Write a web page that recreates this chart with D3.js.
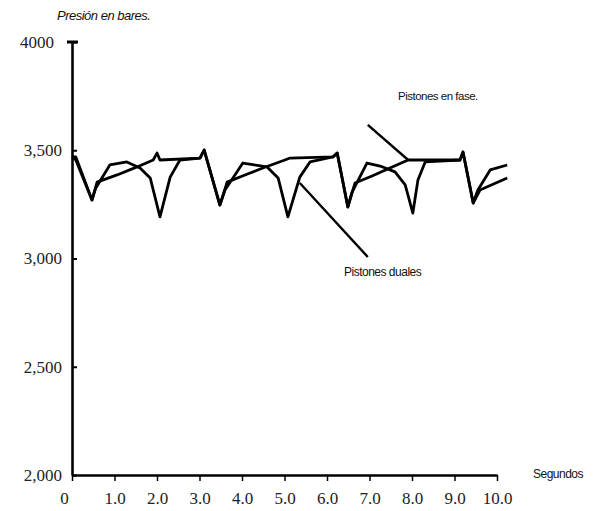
<!DOCTYPE html>
<html>
<head>
<meta charset="utf-8">
<script src="https://cdn.jsdelivr.net/npm/d3@7"></script>
<style>
html,body{margin:0;padding:0;background:#fff;}
svg{display:block;}
.serif text, text.serif{font-family:"Liberation Serif","DejaVu Serif",serif !important;}
</style>
</head>
<body>
<svg id="chart" width="597" height="511"></svg>
<script>
// ---- data ----
const xTicks = [0,1,2,3,4,5,6,7,8,9,10];
const xTickLabels = ["0","1.0","2.0","3.0","4.0","5.0","6.0","7.0","8.0","9.0","10.0"];
const yTicks = [2000,2500,3000,3500,4000];
const yTickLabels = ["2,000","2,500","3,000","3,500","4000"];

const faseT = [0,0.09,0.47,0.59,1.06,1.53,1.91,2.0,2.07,3.01,3.11,3.48,3.65,4.07,4.49,5.01,5.13,6.14,6.24,6.49,6.66,7.06,7.48,7.91,8.02,9.13,9.2,9.44,9.6,10.24];
const faseV = [3469,3455,3270,3353,3386,3423,3455,3487,3455,3464,3501,3247,3353,3386,3418,3455,3464,3469,3487,3238,3349,3381,3418,3455,3455,3455,3492,3256,3316,3372];

const dualT = [0,0.09,0.47,0.56,0.89,1.29,1.6,1.84,2.07,2.31,2.54,3.01,3.11,3.48,3.6,4.02,4.59,4.85,5.08,5.36,5.6,6.14,6.24,6.49,6.59,6.94,7.25,7.6,7.84,8.02,8.14,8.31,9.13,9.2,9.44,9.55,9.84,10.24];
const dualV = [3469,3469,3270,3326,3432,3446,3418,3372,3192,3376,3455,3464,3501,3247,3316,3441,3423,3372,3192,3376,3446,3469,3487,3238,3307,3441,3427,3400,3340,3210,3363,3446,3455,3492,3256,3316,3409,3432];

const yTitle = "Presión en bares.";
const xTitle = "Segundos";
const labelFase = "Pistones en fase.";
const labelDual = "Pistones duales";
// annotation pointer endpoints in data space [t, value]
const pointerFase = [[6.96,3617],[7.91,3455]];
const pointerDual = [[5.36,3349],[6.96,3007]];

// ---- drawing ----
const svg = d3.select("#chart");
svg.append("rect").attr("width",597).attr("height",511).attr("fill","#fff");

const x = d3.scaleLinear().domain([0,10]).range([72,497]);
const y = d3.scaleLinear().domain([2000,4000]).range([475,42]);
const sans = "'Liberation Sans Narrow','Liberation Sans',Arial,sans-serif";

// x axis
const xAxis = d3.axisBottom(x).tickValues(xTicks)
  .tickFormat((d,i)=>xTickLabels[i]).tickSize(6).tickSizeOuter(0);
const gx = svg.append("g").attr("class","serif").attr("transform","translate(0,475)").call(xAxis);
gx.attr("font-family",null).attr("font-size",17);
gx.select(".domain").attr("stroke","#000").attr("stroke-width",2.6);
gx.selectAll(".tick line").attr("stroke","#000").attr("stroke-width",1.5);
gx.selectAll(".tick text").attr("fill","#222").attr("dy","1.15em");
gx.selectAll(".tick text").filter((d)=>d===0).attr("dx",-8);

// y axis
const yAxis = d3.axisLeft(y).tickValues(yTicks)
  .tickFormat((d,i)=>yTickLabels[i]).tickSize(-5).tickSizeOuter(0).tickPadding(10);
const gy = svg.append("g").attr("class","serif").attr("transform","translate(72,0)").call(yAxis);
gy.attr("font-family",null).attr("font-size",17);
gy.select(".domain").attr("stroke","#000").attr("stroke-width",2.6);
gy.selectAll(".tick line").attr("stroke","#000").attr("stroke-width",2);
gy.selectAll(".tick text").attr("fill","#222");
gy.selectAll(".tick text").filter(d=>d===4000).attr("dx",-8);
// top cap on axis
gy.append("line").attr("x1",-5).attr("x2",6).attr("y1",y(4000)).attr("y2",y(4000))
  .attr("stroke","#000").attr("stroke-width",3);

// series
const line = d3.line().x(d=>x(d[0])).y(d=>y(d[1]));
const faseData = faseT.map((t,i)=>[t,faseV[i]]);
const dualData = dualT.map((t,i)=>[t,dualV[i]]);
svg.append("path").datum(faseData).attr("d",line)
  .attr("fill","none").attr("stroke","#000").attr("stroke-width",2.8).attr("stroke-linejoin","round");
svg.append("path").datum(dualData).attr("d",line)
  .attr("fill","none").attr("stroke","#000").attr("stroke-width",2.8).attr("stroke-linejoin","round");

// pointers
[pointerFase,pointerDual].forEach(p=>{
  svg.append("line").attr("x1",x(p[0][0])).attr("y1",y(p[0][1]))
    .attr("x2",x(p[1][0])).attr("y2",y(p[1][1]))
    .attr("stroke","#000").attr("stroke-width",2.4);
});

// texts
function label(txt,xp,yp,size,italic){
  svg.append("text").attr("x",xp).attr("y",yp).text(txt)
    .style("font-family",sans).style("font-size",size+"px")
    .style("font-style",italic?"italic":"normal")
    .attr("letter-spacing",-0.5).attr("fill","#111");
}
label(yTitle,57,20,13,true);
label(xTitle,533,478,12,false);
label(labelFase,398,100,11.5,false);
label(labelDual,344,276,12,false);
</script>
</body>
</html>
